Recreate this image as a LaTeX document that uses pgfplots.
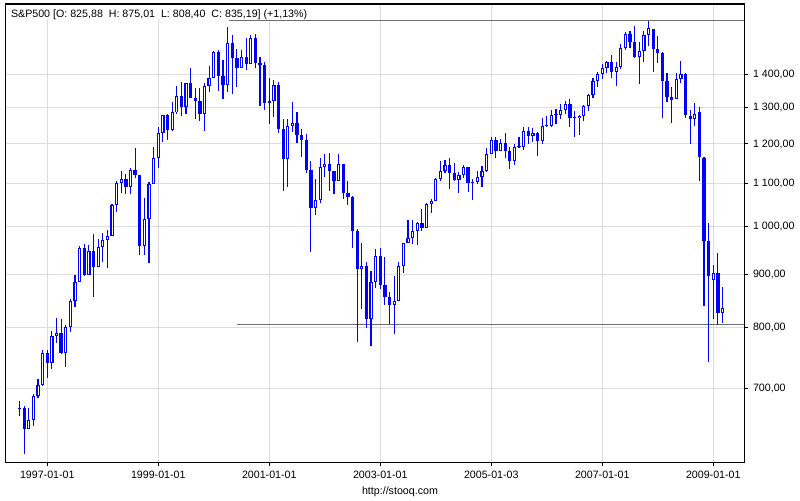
\documentclass[border=0pt]{standalone}
\usepackage{pgfplots}
\pgfplotsset{compat=1.18}
\usepackage{pgfplotstable}
\usepackage{fontspec}
\setmainfont{Liberation Sans}

\definecolor{candle}{HTML}{0000FF}
\definecolor{gridgray}{HTML}{DCDCDC}
\definecolor{levelgray}{HTML}{6E6E6E}

% S&P500 monthly candles, Jun 1996 - Feb 2009 (last one partial)
\pgfplotstableread{
yr mo o h l c
1996 6 669.12 680.32 658.73 670.63
1996 7 670.63 672.71 605.88 639.95
1996 8 639.95 670.68 639.49 651.99
1996 9 651.99 690.88 643.97 687.33
1996 10 687.31 714.10 684.53 705.27
1996 11 705.27 762.12 703.77 757.02
1996 12 757.02 761.75 716.69 740.74
1997 1 740.74 794.67 729.55 786.16
1997 2 786.16 817.68 773.43 790.82
1997 3 790.82 814.90 756.13 757.12
1997 4 757.12 804.13 733.54 801.34
1997 5 801.34 851.87 793.21 848.28
1997 6 848.28 898.70 837.59 885.14
1997 7 885.14 957.73 885.14 954.31
1997 8 954.29 961.63 896.86 899.47
1997 9 899.47 960.59 899.47 947.28
1997 10 947.28 983.12 855.27 914.62
1997 11 914.62 973.14 914.62 955.40
1997 12 955.40 986.25 924.65 970.43
1998 1 970.43 992.65 912.83 980.28
1998 2 980.28 1051.66 980.28 1049.34
1998 3 1049.34 1105.65 1032.10 1101.75
1998 4 1101.75 1130.52 1076.70 1111.75
1998 5 1111.75 1123.02 1074.39 1090.82
1998 6 1090.82 1138.49 1074.67 1133.84
1998 7 1133.84 1190.58 1114.30 1120.67
1998 8 1120.67 1121.76 939.98 957.28
1998 9 957.28 1066.11 939.71 1017.01
1998 10 1017.01 1102.42 923.32 1098.67
1998 11 1098.67 1192.97 1098.67 1163.63
1998 12 1163.63 1244.93 1136.89 1229.23
1999 1 1229.23 1280.37 1205.46 1279.64
1999 2 1279.64 1281.40 1211.65 1238.33
1999 3 1238.33 1316.55 1234.03 1286.37
1999 4 1286.37 1362.80 1282.56 1335.18
1999 5 1335.18 1375.98 1277.31 1301.84
1999 6 1301.84 1372.93 1281.41 1372.71
1999 7 1372.71 1420.33 1328.72 1328.72
1999 8 1328.72 1357.97 1268.68 1320.41
1999 9 1320.41 1357.21 1263.25 1282.71
1999 10 1282.71 1373.17 1233.70 1362.93
1999 11 1362.93 1424.01 1345.76 1388.91
1999 12 1388.91 1473.10 1387.38 1469.25
2000 1 1469.25 1478.00 1350.14 1394.46
2000 2 1394.46 1444.55 1325.07 1366.42
2000 3 1366.42 1552.87 1346.62 1498.58
2000 4 1498.58 1527.19 1339.40 1452.43
2000 5 1452.43 1481.51 1361.09 1420.60
2000 6 1420.60 1477.26 1420.60 1454.60
2000 7 1454.60 1517.32 1413.89 1430.83
2000 8 1430.83 1525.21 1430.83 1517.68
2000 9 1517.68 1530.09 1419.44 1436.51
2000 10 1436.51 1454.82 1305.79 1429.40
2000 11 1429.40 1438.46 1294.90 1314.95
2000 12 1314.95 1389.06 1254.07 1320.28
2001 1 1320.28 1383.37 1274.62 1366.01
2001 2 1366.01 1376.38 1228.33 1239.94
2001 3 1239.94 1267.42 1081.19 1160.33
2001 4 1160.33 1269.30 1091.99 1249.46
2001 5 1249.46 1315.93 1232.00 1255.82
2001 6 1255.82 1286.62 1203.03 1224.42
2001 7 1224.42 1239.78 1165.54 1211.23
2001 8 1211.23 1226.27 1124.87 1133.58
2001 9 1133.58 1155.40 944.75 1040.94
2001 10 1040.94 1110.61 1026.76 1059.78
2001 11 1059.78 1163.38 1054.31 1139.45
2001 12 1139.45 1173.62 1114.51 1148.08
2002 1 1148.08 1176.97 1081.66 1130.20
2002 2 1130.20 1130.20 1074.36 1106.73
2002 3 1106.73 1173.94 1106.73 1147.39
2002 4 1147.39 1147.84 1063.46 1076.92
2002 5 1076.92 1106.59 1048.96 1067.14
2002 6 1067.14 1070.74 952.92 989.82
2002 7 989.82 994.46 775.68 911.62
2002 8 911.62 965.00 833.44 916.07
2002 9 916.07 924.02 800.20 815.28
2002 10 815.28 907.44 768.63 885.76
2002 11 885.76 951.57 872.57 936.31
2002 12 936.31 954.28 871.84 879.82
2003 1 879.82 935.05 840.34 855.70
2003 2 855.70 864.64 806.29 841.15
2003 3 841.15 895.90 788.90 848.18
2003 4 848.18 924.24 847.85 916.92
2003 5 916.92 965.38 902.83 963.59
2003 6 963.59 1015.33 963.59 974.50
2003 7 974.50 1015.41 962.10 990.31
2003 8 990.31 1011.01 960.84 1008.01
2003 9 1008.01 1040.29 990.36 995.97
2003 10 995.97 1053.79 995.97 1050.71
2003 11 1050.71 1063.65 1031.20 1058.20
2003 12 1058.20 1112.56 1058.20 1111.92
2004 1 1111.92 1155.38 1105.08 1131.13
2004 2 1131.13 1158.98 1124.44 1144.94
2004 3 1144.94 1163.23 1087.16 1126.21
2004 4 1126.21 1150.57 1107.23 1107.30
2004 5 1107.30 1127.74 1076.32 1120.68
2004 6 1120.68 1146.34 1113.32 1140.84
2004 7 1140.84 1140.84 1078.78 1101.72
2004 8 1101.72 1109.68 1060.72 1104.24
2004 9 1104.24 1131.54 1099.18 1114.58
2004 10 1114.58 1142.05 1090.19 1130.20
2004 11 1130.20 1188.46 1127.60 1173.82
2004 12 1173.82 1217.33 1173.76 1211.92
2005 1 1211.92 1217.80 1163.75 1181.27
2005 2 1181.27 1212.44 1180.95 1203.60
2005 3 1203.60 1229.11 1163.69 1180.59
2005 4 1180.59 1191.88 1136.15 1156.85
2005 5 1156.85 1199.56 1146.18 1191.50
2005 6 1191.50 1219.59 1188.30 1191.33
2005 7 1191.33 1245.15 1183.55 1234.18
2005 8 1234.18 1245.86 1201.07 1220.33
2005 9 1220.33 1243.13 1205.35 1228.81
2005 10 1228.81 1233.34 1168.20 1207.01
2005 11 1207.01 1270.64 1201.07 1249.48
2005 12 1249.48 1275.80 1246.59 1248.29
2006 1 1248.29 1294.90 1245.74 1280.08
2006 2 1280.08 1297.57 1253.61 1280.66
2006 3 1280.66 1310.88 1268.42 1294.83
2006 4 1294.83 1318.16 1280.74 1310.61
2006 5 1310.61 1326.70 1245.34 1270.09
2006 6 1270.09 1290.68 1219.29 1270.20
2006 7 1270.20 1280.42 1224.54 1276.66
2006 8 1276.66 1306.74 1261.30 1303.82
2006 9 1303.82 1340.28 1290.93 1335.85
2006 10 1335.85 1389.45 1327.10 1377.94
2006 11 1377.94 1407.89 1360.98 1400.63
2006 12 1400.63 1431.81 1385.93 1418.30
2007 1 1418.30 1441.61 1403.97 1438.24
2007 2 1438.24 1461.57 1389.42 1406.82
2007 3 1406.82 1438.89 1363.98 1420.86
2007 4 1420.86 1498.02 1416.37 1482.37
2007 5 1482.37 1535.56 1476.70 1530.62
2007 6 1530.62 1540.56 1484.18 1503.35
2007 7 1504.66 1555.90 1454.25 1455.27
2007 8 1455.18 1503.89 1370.60 1473.99
2007 9 1473.96 1538.74 1439.29 1526.75
2007 10 1527.29 1576.09 1489.56 1549.38
2007 11 1545.79 1545.79 1406.10 1481.14
2007 12 1479.63 1523.57 1435.65 1468.36
2008 1 1467.97 1471.77 1270.05 1378.55
2008 2 1378.60 1404.05 1317.52 1330.63
2008 3 1330.45 1359.68 1256.98 1322.70
2008 4 1326.41 1404.57 1324.35 1385.59
2008 5 1385.97 1440.24 1373.07 1400.38
2008 6 1399.62 1404.05 1272.00 1280.00
2008 7 1276.69 1292.17 1200.44 1267.38
2008 8 1267.23 1313.15 1248.49 1282.83
2008 9 1287.83 1303.04 1106.42 1166.36
2008 10 1164.17 1167.03 839.80 968.75
2008 11 968.67 1007.51 741.02 896.24
2008 12 888.61 918.85 815.69 903.25
2009 1 902.99 943.85 804.22 825.88
2009 2 825.88 875.01 808.40 835.19
}\spx

\begin{document}
\begin{tikzpicture}
\useasboundingbox (0,0) rectangle (600pt,375pt);
\begin{axis}[
  at={(4.275pt,28.275pt)}, anchor=south west,
  scale only axis,
  width=553.95pt, height=343.7pt,
  ymode=log,
  xmin=1996.2505, xmax=2009.5586,
  ymin=594.4, ymax=1634.6,
  xtick={1997,1999,2001,2003,2005,2007,2009},
  xticklabels={1997-01-01,1999-01-01,2001-01-01,2003-01-01,2005-01-03,2007-01-01,2009-01-01},
  ytick={700,800,900,1000,1100,1200,1300,1400},
  yticklabels={{700,00},{800,00},{900,00},{1 000,00},{1 100,00},{1 200,00},{1 300,00},{1 400,00}},
  minor tick num=0,
  xtick pos=lower, ytick pos=upper,
  yticklabel pos=upper,
  tick align=outside,
  major tick length=3pt,
  tick style={black, line width=0.75pt},
  tick label style={font=\fontsize{8}{9}\selectfont, black},
  grid=major,
  major grid style={gridgray, line width=0.75pt},
  axis line style={black, line width=0.9pt},
  candles/.style={draw=none, mark=none, forget plot,
    error bars/y dir=#1, error bars/y explicit, error bars/error mark=none},
]
% level lines
\addplot[levelgray, line width=0.8pt, forget plot] coordinates {(2000.27,1576.09) (2009.56,1576.09)};
\addplot[levelgray, line width=0.8pt, forget plot] coordinates {(2000.42,806) (2009.56,806)};

% wicks
\addplot[candles=both,
  error bars/error bar style={draw=candle, line width=0.85pt}]
  table[x expr=\thisrow{yr}+\thisrow{mo}/12, y=c,
        y error plus expr=\thisrow{h}-\thisrow{c},
        y error minus expr=\thisrow{c}-\thisrow{l}] {\spx};

% bodies
\addplot[candles=plus,
  error bars/error bar style={draw=candle, line width=2.5pt}]
  table[x expr=\thisrow{yr}+\thisrow{mo}/12,
        y expr={min(\thisrow{o},\thisrow{c})},
        y error plus expr={max(abs(\thisrow{c}-\thisrow{o}),0.0022*\thisrow{o})}] {\spx};

% hollow interior of rising candles
\addplot[candles=plus,
  error bars/error bar style={draw=white, line width=0.8pt}]
  table[x expr=\thisrow{yr}+\thisrow{mo}/12,
        y expr={\thisrow{o}*1.0022},
        y error plus expr={max(\thisrow{c}/1.0022-\thisrow{o}*1.0022,0)}] {\spx};

\node[fill=white, anchor=base west, inner xsep=3.2pt, inner ysep=0pt,
  text height=9pt, text depth=1.6pt, font=\fontsize{8}{9}\selectfont]
  at ([xshift=0.6pt,yshift=-10pt]rel axis cs:0,1)
  {S\&P500 [O: 825,88\ \ H: 875,01\ \ L: 808,40\ \ C: 835,19] (+1,13\%)};
\end{axis}
\node[font=\fontsize{8}{9}\selectfont] at (300pt,6.4pt) {http://stooq.com};
\end{tikzpicture}
\end{document}
